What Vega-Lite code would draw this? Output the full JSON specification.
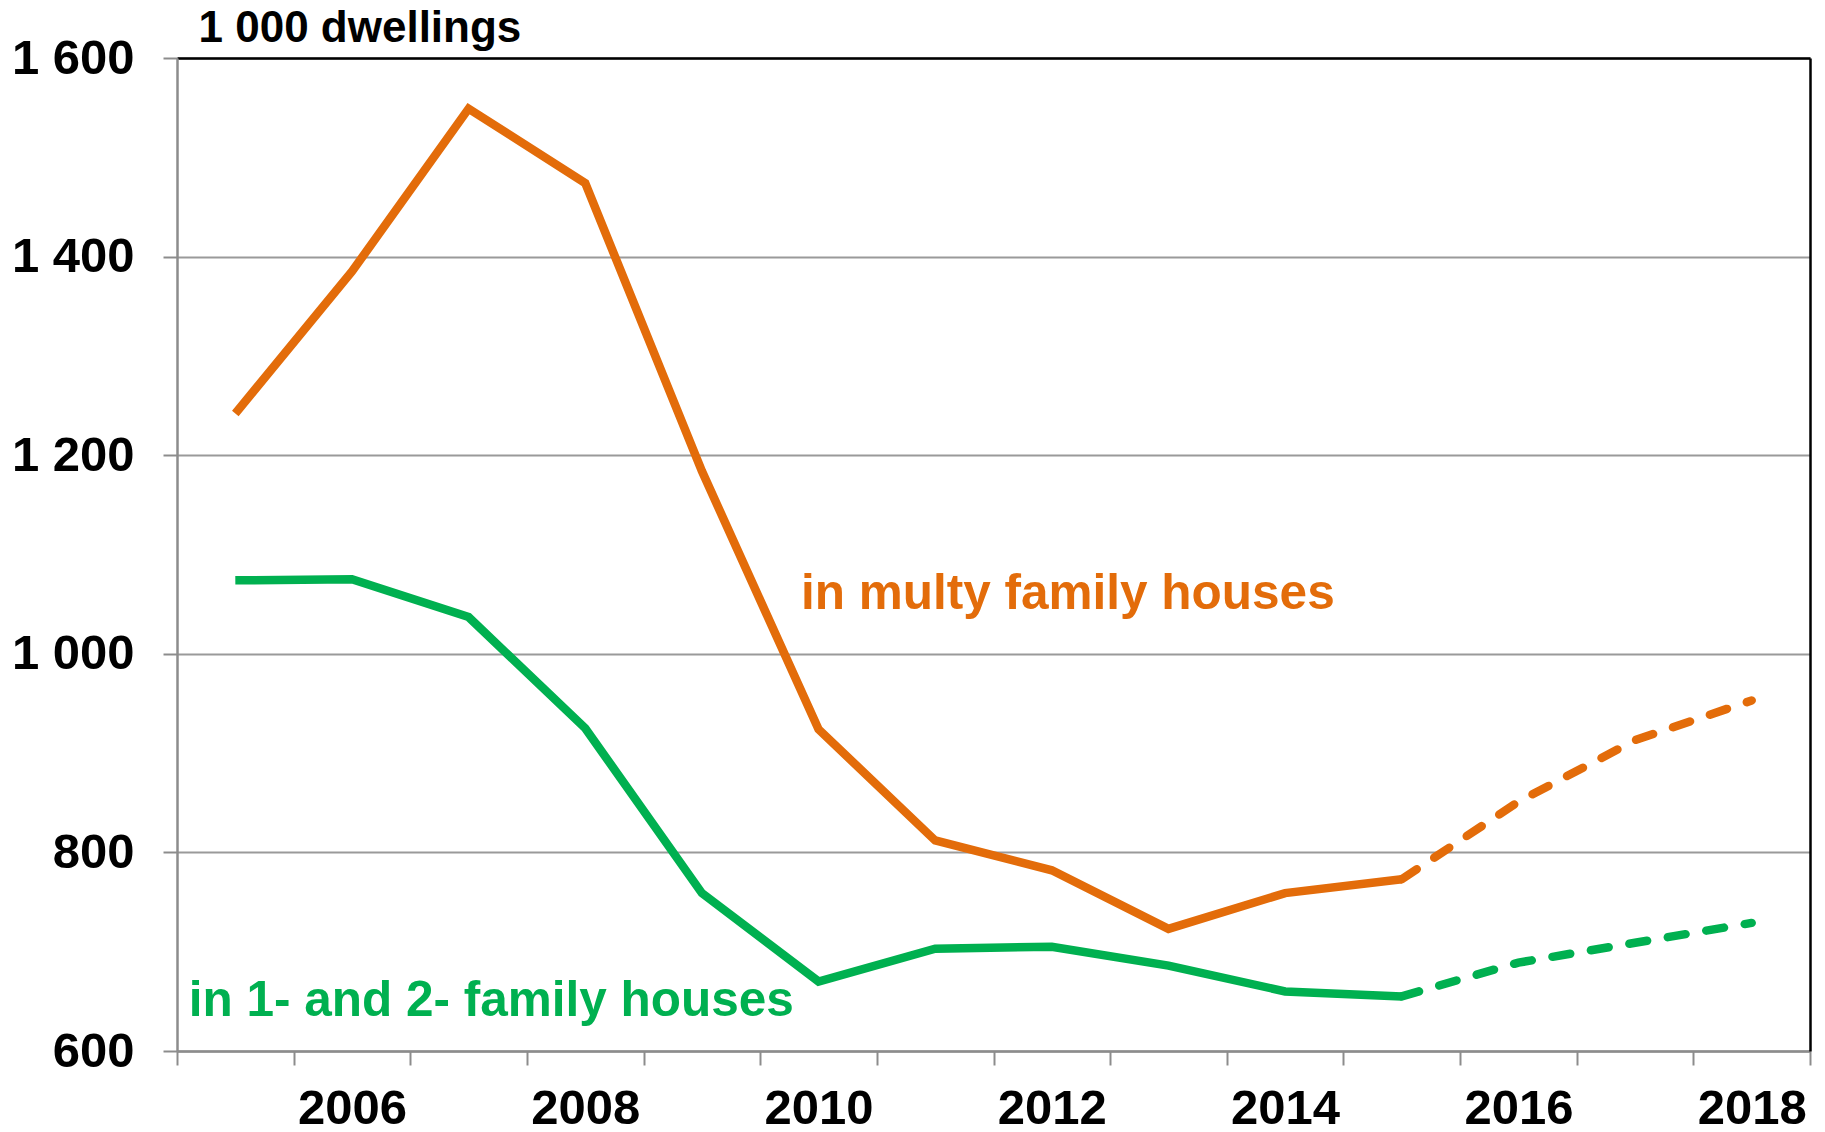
{
  "$schema": "https://vega.github.io/schema/vega-lite/v6.json",
  "width": 1633,
  "height": 993,
  "autosize": {"type": "none"},
  "padding": {"left": 177, "top": 58, "right": 15, "bottom": 81},
  "background": "white",
  "config": {
    "view": {"stroke": null},
    "font": "Liberation Sans"
  },
  "datasets": {
    "series": [
      {"year": 2005, "series": "multi", "part": "actual", "value": 1242},
      {"year": 2006, "series": "multi", "part": "actual", "value": 1385},
      {"year": 2007, "series": "multi", "part": "actual", "value": 1549},
      {"year": 2008, "series": "multi", "part": "actual", "value": 1474},
      {"year": 2009, "series": "multi", "part": "actual", "value": 1184},
      {"year": 2010, "series": "multi", "part": "actual", "value": 924},
      {"year": 2011, "series": "multi", "part": "actual", "value": 812},
      {"year": 2012, "series": "multi", "part": "actual", "value": 782},
      {"year": 2013, "series": "multi", "part": "actual", "value": 723},
      {"year": 2014, "series": "multi", "part": "actual", "value": 759},
      {"year": 2015, "series": "multi", "part": "actual", "value": 773},
      {"year": 2015, "series": "multi", "part": "forecast", "value": 773},
      {"year": 2016, "series": "multi", "part": "forecast", "value": 851},
      {"year": 2017, "series": "multi", "part": "forecast", "value": 913},
      {"year": 2018, "series": "multi", "part": "forecast", "value": 953},
      {"year": 2005, "series": "single", "part": "actual", "value": 1074},
      {"year": 2006, "series": "single", "part": "actual", "value": 1075},
      {"year": 2007, "series": "single", "part": "actual", "value": 1037},
      {"year": 2008, "series": "single", "part": "actual", "value": 925},
      {"year": 2009, "series": "single", "part": "actual", "value": 759},
      {"year": 2010, "series": "single", "part": "actual", "value": 670},
      {"year": 2011, "series": "single", "part": "actual", "value": 703},
      {"year": 2012, "series": "single", "part": "actual", "value": 705},
      {"year": 2013, "series": "single", "part": "actual", "value": 686},
      {"year": 2014, "series": "single", "part": "actual", "value": 660},
      {"year": 2015, "series": "single", "part": "actual", "value": 655},
      {"year": 2015, "series": "single", "part": "forecast", "value": 655},
      {"year": 2016, "series": "single", "part": "forecast", "value": 689},
      {"year": 2017, "series": "single", "part": "forecast", "value": 709},
      {"year": 2018, "series": "single", "part": "forecast", "value": 729}
    ],
    "labels": [
      {"label": "in multy family houses", "series": "multi", "year": 2010, "value": 1060},
      {"label": "in 1- and 2- family houses", "series": "single", "year": 2005, "value": 650}
    ]
  },
  "resolve": {"axis": {"x": "independent", "y": "independent"}},
  "layer": [
    {
      "data": {"name": "series"},
      "transform": [{"filter": "datum.part == 'actual'"}],
      "mark": {"type": "line", "strokeWidth": 8.5, "strokeCap": "butt", "strokeJoin": "miter"},
      "encoding": {
        "x": {
          "field": "year", "type": "ordinal", "bandPosition": 0.5,
          "scale": {"type": "band", "paddingInner": 0, "paddingOuter": 0, "domain": [2005,2006,2007,2008,2009,2010,2011,2012,2013,2014,2015,2016,2017,2018]},
          "axis": {
            "orient": "bottom", "title": null, "tickBand": "extent",
            "ticks": true, "tickSize": 14, "tickColor": "#8c8c8c", "tickWidth": 2,
            "domain": true, "domainColor": "#8c8c8c", "domainWidth": 2.5,
            "grid": false, "labelAngle": 0, "labelOverlap": false, "labelBound": false, "labelFlush": false,
            "labelFont": "Liberation Sans", "labelFontSize": 49, "labelFontWeight": "bold", "labelColor": "black",
            "labelBaseline": "middle", "labelPadding": 43,
            "labelExpr": "datum.value % 2 == 0 ? datum.label : ''"
          }
        },
        "y": {
          "field": "value", "type": "quantitative",
          "scale": {"domain": [600, 1600], "nice": false, "zero": false},
          "axis": {
            "orient": "left", "values": [600, 800, 1000, 1200, 1400, 1600],
            "grid": true, "gridColor": "#9a9a9a", "gridWidth": 2,
            "domain": true, "domainColor": "#8c8c8c", "domainWidth": 2.5,
            "ticks": true, "tickSize": 14, "tickColor": "#8c8c8c", "tickWidth": 2,
            "labelFont": "Liberation Sans", "labelFontSize": 49, "labelFontWeight": "bold", "labelColor": "black",
            "labelPadding": 29,
            "labelExpr": "replace(format(datum.value, ','), ',', ' ')",
            "title": "1 000 dwellings", "titleAngle": 0, "titleAlign": "left", "titleBaseline": "alphabetic",
            "titleX": 21, "titleY": -17,
            "titleFont": "Liberation Sans", "titleFontSize": 44, "titleFontWeight": "bold", "titleColor": "black"
          }
        },
        "color": {
          "field": "series", "type": "nominal", "legend": null,
          "scale": {"domain": ["multi", "single"], "range": ["#E36C0A", "#00B050"]}
        },
        "detail": {"field": "part"}
      }
    },
    {
      "data": {"name": "series"},
      "transform": [{"filter": "datum.part == 'forecast'"}],
      "mark": {"type": "line", "strokeWidth": 8.5, "strokeCap": "round", "strokeDash": [18, 21]},
      "encoding": {
        "x": {
          "field": "year", "type": "ordinal", "bandPosition": 0.5,
          "axis": {
            "orient": "top", "title": null, "labels": false, "ticks": false, "grid": false,
            "domain": true, "domainColor": "black", "domainWidth": 2.5
          }
        },
        "y": {
          "field": "value", "type": "quantitative",
          "axis": {
            "orient": "right", "title": null, "labels": false, "ticks": false, "grid": false,
            "domain": true, "domainColor": "black", "domainWidth": 2.5
          }
        },
        "color": {"field": "series", "type": "nominal", "legend": null}
      }
    },
    {
      "data": {"name": "labels"},
      "transform": [{"filter": "datum.series == 'multi'"}],
      "mark": {"type": "text", "align": "left", "baseline": "middle", "font": "Liberation Sans", "fontSize": 49.5, "fontWeight": "bold"},
      "encoding": {
        "x": {"field": "year", "type": "ordinal", "bandPosition": 0.35, "axis": null},
        "y": {"field": "value", "type": "quantitative", "axis": null},
        "text": {"field": "label"},
        "color": {"field": "series", "type": "nominal", "legend": null}
      }
    },
    {
      "data": {"name": "labels"},
      "transform": [{"filter": "datum.series == 'single'"}],
      "mark": {"type": "text", "align": "left", "baseline": "middle", "font": "Liberation Sans", "fontSize": 49.5, "fontWeight": "bold"},
      "encoding": {
        "x": {"field": "year", "type": "ordinal", "bandPosition": 0.1, "axis": null},
        "y": {"field": "value", "type": "quantitative", "axis": null},
        "text": {"field": "label"},
        "color": {"field": "series", "type": "nominal", "legend": null}
      }
    }
  ]
}
